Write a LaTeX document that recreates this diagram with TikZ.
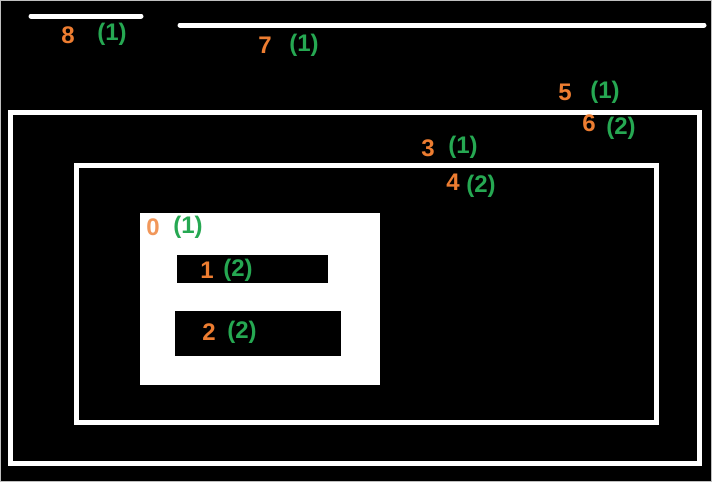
\documentclass[tikz,border=0pt]{standalone}
\usepackage{fontspec}
\setmainfont{Liberation Sans}
\definecolor{numorange}{RGB}{237,125,49}
\definecolor{numgreen}{RGB}{38,168,82}

\tikzset{
  wall/.style={draw=white, line width=5pt},
  num/.style={text=numorange, font=\fontsize{24}{24}\selectfont\bfseries, inner sep=0pt},
  cnt/.style={text=numgreen, font=\fontsize{24}{24}\selectfont\bfseries, inner sep=0pt}
}

\begin{document}
\begin{tikzpicture}[x=1pt, y=-1pt]
			\fill[black] (0,0) rectangle (712,482);
			\draw[gray!50, line width=1pt] (0.5,0.5) rectangle (711.5,481.5);
			\useasboundingbox (0,0) rectangle (712,482);
			
			% lines on top
			\draw[wall, line cap=round] (31,16) -- (141,16);
			\draw[wall, line cap=round] (180,25) -- (704,25);
			
			% nested boxes
			\draw[wall] (10,112) rectangle (699,463);
			\draw[wall] (76,165) rectangle (656,422);
			\fill[white] (140,213) rectangle (380,385);
			\fill[black] (177,255) rectangle (328,283);
			\fill[black] (175,311) rectangle (341,356);
			
			% labels
			\node[num] (n8) at (68,35)  {8};
			\node[cnt] (c8) at (112,34) {(1)};
			\node[num] (n7) at (265,45) {7};
			\node[cnt] (c7) at (304,45) {(1)};
			\node[num] (n5) at (565,92) {5};
			\node[cnt] (c5) at (605,92) {(1)};
			\node[num] (n6) at (589,123) {6};
			\node[cnt] (c6) at (621,128) {(2)};
			\node[num] (n3) at (428,148) {3};
			\node[cnt] (c3) at (463,147) {(1)};
			\node[num] (n4) at (453,182) {4};
			\node[cnt] (c4) at (481,186) {(2)};
			\node[num, text=numorange!80] (n0) at (153,227) {0};
			\node[cnt] (c0) at (188,227) {(1)};
			\node[num] (n1) at (207,270) {1};
			\node[cnt] (c1) at (238,270) {(2)};
			\node[num] (n2) at (209,332) {2};
			\node[cnt] (c2) at (242,332) {(2)};
			
		\end{tikzpicture}
\end{document}
